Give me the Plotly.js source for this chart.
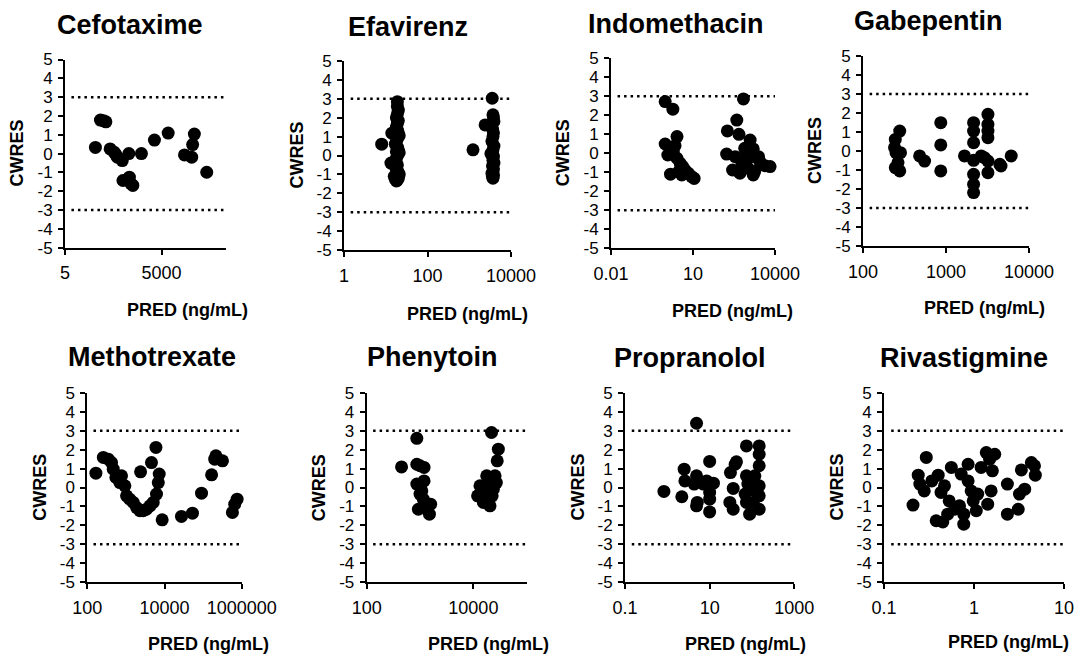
<!DOCTYPE html>
<html>
<head>
<meta charset="utf-8">
<script src="https://cdn.plot.ly/plotly-3.0.1.min.js"></script>
<style>
  html, body { margin: 0; padding: 0; background: #fff; }
  #chart { width: 1078px; height: 656px; }
</style>
</head>
<body>
<div id="chart"></div>
<script>
// ---- data ----
const drugNames = ["Cefotaxime", "Efavirenz", "Indomethacin", "Gabepentin",
                   "Methotrexate", "Phenytoin", "Propranolol", "Rivastigmine"];

const cefotaximeX = [44, 63, 79, 93, 126, 170, 190, 212, 300, 315, 480, 500, 560, 640, 1180, 3000, 8000, 25700, 43000, 46000, 52000, 126000];
const cefotaximeY = [0.33, 1.78, 1.74, 1.69, 0.25, 0.07, -0.05, -0.19, -0.37, -1.43, 0, -1.25, -1.6, -1.69, 0, 0.72, 1.09, -0.07, -0.19, 0.48, 1.04, -0.99];

const efavirenzX = [8, 14, 13.3, 19, 19, 20, 19, 18, 20, 19, 18, 19, 20, 21, 19, 18, 17, 19, 20, 21, 19, 18, 17, 16, 17, 18, 19, 20, 21, 19, 18, 17, 16, 18, 19, 20, 19, 18,
                    1230, 3550, 3800, 3700, 3900, 2400, 3600, 3800, 3700, 3500, 3900, 3700, 3600, 3800, 3300, 3700, 3900, 3600, 3800, 3700, 3500, 3800, 3700, 3600];
const efavirenzY = [0.6, 1.18, -0.4, 2.85, 2.6, 2.4, 2.2, 2.0, 1.85, 1.7, 1.5, 1.35, 1.2, 1.05, 0.9, 0.75, 0.6, 0.45, 0.3, 0.15, 0.0, -0.15, -0.3, -0.45, -0.6, -0.7, -0.8, -0.9, -1.0, -1.1, -1.2, -1.25, -1.1, -1.35, -1.3, -1.2, -0.5, 0.2,
                    0.3, 3.03, 2.0, 2.15, 1.8, 1.62, 1.4, 1.2, 1.0, 0.75, 0.5, 0.3, 0.12, -0.05, 0.1, -0.25, -0.4, -0.55, -0.7, -0.85, -0.95, -1.05, -1.2, -1.1];

const indomethacinX = [0.96, 1.83, 0.96, 2.6, 2.2, 1.2, 1.5, 1.9, 2.6, 3.4, 4.2, 5.1, 6.8, 9, 11, 3, 3.9, 181, 170, 400, 480, 700, 280, 520, 780, 1230, 1600, 620, 1050, 1800, 2800, 4300, 6600, 350, 780, 1400, 1600, 2500];
const indomethacinY = [2.72, 2.32, 0.49, 0.88, 0.4, -0.09, -1.1, 0.09, -0.26, -0.53, -0.7, -0.88, -1.05, -1.23, -1.32, -0.96, -1.14, 1.18, -0.04, 1.75, 1.0, 2.86, -0.88, -1.05, 0.26, 0.7, 0.23, -0.53, -0.79, -0.96, -0.44, -0.65, -0.7, -0.18, -0.26, -0.18, -1.14, -0.18];

const gabepentinX = [245, 277, 240, 250, 283, 245, 277, 264, 481, 552, 865, 865, 865, 1670, 2150, 2150, 2150, 2150, 2150, 2150, 2150, 2660, 3200, 3200, 3200, 3200, 3200, 3200, 2900, 4450, 4600, 6100];
const gabepentinY = [0.61, 1.05, 0.18, -0.09, -0.09, -0.88, -1.05, -0.61, -0.26, -0.53, 1.49, 0.32, -1.05, -0.26, 1.49, 1.05, 0.44, -0.49, -1.23, -1.75, -2.19, -0.26, 1.93, 1.4, 1.05, 0.7, -0.53, -1.14, -0.35, -0.7, -0.79, -0.26];

const methotrexateX = [167, 260, 350, 425, 470, 550, 770, 700, 940, 1040, 1260, 1550, 1900, 2300, 2800, 3400, 2400, 4600, 6000, 7300, 5100, 4200, 6200, 6900, 8700, 27500, 53000, 91000, 166000, 200000, 215000, 318000, 575000, 660000, 760000];
const methotrexateY = [0.76, 1.59, 1.5, 1.32, 0.97, 0.53, 0.62, 0.26, 0.09, -0.44, -0.62, -0.79, -1.06, -1.23, -1.23, -1.15, 0.83, 1.32, 2.12, 0.71, -0.79, -0.97, -0.35, 0.26, -1.71, -1.53, -1.36, -0.3, 0.67, 1.5, 1.68, 1.41, -1.32, -0.88, -0.62];

const phenytoinX = [450, 870, 870, 1000, 1190, 870, 1190, 1000, 1150, 930, 1330, 1500, 1580, 1250, 1080, 13300, 15400, 14500, 17800, 20500, 21900, 17800, 20500, 23700, 25500, 29400, 28000, 27000, 22500, 16500, 12000, 15400, 19000];
const phenytoinY = [1.09, 2.6, 1.23, 1.15, 1.06, 0.18, 0.35, -0.35, -0.62, -1.15, -1.15, -1.41, -0.88, -0.88, -0.18, 0.09, -0.26, -0.44, -0.79, -0.97, 2.91, 0.62, 0.09, -0.09, 0.62, 2.03, 1.41, 0.26, -0.44, 0.09, -0.44, -0.79, -0.35];

const propranololX = [0.83, 2.2, 2.5, 2.6, 4.9, 4.9, 4.3, 5.1, 4.9, 7.1, 10, 10, 10, 10, 12.3, 8.5, 31, 40, 43, 36, 30, 36, 74, 74, 74, 80, 69, 88, 107, 107, 148, 148, 148, 148, 148, 148, 128, 117];
const propranololY = [-0.21, -0.49, 0.97, 0.35, 3.4, 0.62, 0.18, -0.79, -0.97, 0.18, 1.38, -0.26, -0.62, -1.29, 0.23, 0.35, 0.79, 1.23, 1.36, -0.05, -0.79, -1.15, 2.2, 0.62, -0.79, 0.18, -0.35, -1.41, -0.79, 0.09, 2.2, 1.76, 1.15, 0.09, -0.44, -1.15, -0.26, 0.62];

const rivastigmineX = [0.21, 0.24, 0.25, 0.295, 0.28, 0.34, 0.40, 0.38, 0.45, 0.43, 0.47, 0.51, 0.53, 0.56, 0.61, 0.69, 0.72, 0.77, 0.77, 0.86, 0.86, 0.93, 0.98, 1.06, 1.1, 1.2, 1.37, 1.49, 1.6, 1.7, 1.55, 1.42, 2.35, 2.35, 3.1, 3.36, 3.2, 3.66, 4.34, 4.7, 4.8];
const rivastigmineY = [-0.93, 0.65, 0.18, 1.59, -0.18, 0.35, 0.65, -1.76, -1.82, -0.26, 0.09, -1.41, -0.71, 1.06, -1.15, -0.97, 0.71, -1.41, -1.94, 0.35, 1.23, -0.18, -0.71, -1.23, -0.35, 1.06, 1.85, 1.5, 0.88, 1.76, -0.18, -0.88, 0.18, -1.41, -1.15, 0.93, -0.35, -0.09, 1.32, 1.15, 0.65];

// x-axis ranges (data units) and tick labels
const xRanges = [[5, 500000], [1, 10000], [0.01, 10000], [100, 10000],
                 [100, 1000000], [100, 100000], [0.1, 1000], [0.1, 10]];
const xTickVals = [[5, 5000], [1, 100, 10000], [0.01, 10, 10000], [100, 1000, 10000],
                   [100, 10000, 1000000], [100, 10000], [0.1, 10, 1000], [0.1, 1, 10]];
const xTickText = [["5", "5000"], ["1", "100", "10000"], ["0.01", "10", "10000"], ["100", "1000", "10000"],
                   ["100", "10000", "1000000"], ["100", "10000"], ["0.1", "10", "1000"], ["0.1", "1", "10"]];
const yTickVals = [-5, -4, -3, -2, -1, 0, 1, 2, 3, 4, 5];
const yTickText = ["-5", "-4", "-3", "-2", "-1", "0", "1", "2", "3", "4", "5"];
const refLines = [3, -3];
const yTitle = "CWRES";
const xTitle = "PRED (ng/mL)";

const seriesX = [cefotaximeX, efavirenzX, indomethacinX, gabepentinX, methotrexateX, phenytoinX, propranololX, rivastigmineX];
const seriesY = [cefotaximeY, efavirenzY, indomethacinY, gabepentinY, methotrexateY, phenytoinY, propranololY, rivastigmineY];

// ---- layout geometry (pixels) ----
const W = 1078, H = 656;
const boxes = [ // [left, right, top, bottom]
  [65, 226, 59.5, 247.7],
  [344, 511, 61, 250],
  [611, 775, 58.3, 248.3],
  [863, 1029, 56, 246],
  [87.3, 241.7, 393, 582],
  [366.7, 526.7, 393, 582],
  [625, 794.3, 393, 582],
  [884, 1064, 393, 582]
];
const titlePos = [[130, 25], [408, 27], [676, 24], [928, 21], [152, 357], [432, 357], [690, 358], [964, 358]];
const xTitlePos = [[187, 310], [467, 314], [732, 311], [984, 308], [208, 644], [488, 644], [745, 644], [1008, 642]];

const FONT = "Liberation Sans, Arial, sans-serif";
const px = v => v / W;
const py = v => 1 - v / H;

const data = [];
const layout = {
  width: W, height: H,
  margin: {l: 0, r: 0, t: 0, b: 0},
  paper_bgcolor: "#ffffff",
  plot_bgcolor: "rgba(0,0,0,0)",
  showlegend: false,
  font: {family: FONT, color: "#000"},
  annotations: [],
  shapes: []
};

for (let i = 0; i < 8; i++) {
  const n = i + 1;
  const xa = n === 1 ? "x" : "x" + n;
  const ya = n === 1 ? "y" : "y" + n;
  const b = boxes[i];
  data.push({
    type: "scatter", mode: "markers",
    x: seriesX[i], y: seriesY[i],
    xaxis: xa, yaxis: ya,
    marker: {color: "#000", size: 13, line: {width: 0}},
    hoverinfo: "x+y", cliponaxis: false
  });
  layout["xaxis" + (n === 1 ? "" : n)] = {
    type: "log",
    domain: [px(b[0]), px(b[1])],
    range: [Math.log10(xRanges[i][0]), Math.log10(xRanges[i][1])],
    anchor: ya,
    tickmode: "array", tickvals: xTickVals[i], ticktext: xTickText[i],
    ticks: "outside", ticklen: 5, tickwidth: 2, tickcolor: "#000",
    showline: true, linewidth: 2, linecolor: "#000",
    showgrid: false, zeroline: false,
    tickfont: {family: FONT, size: 18, color: "#000"},
    ticklabelstandoff: 3,
    fixedrange: true
  };
  layout["yaxis" + (n === 1 ? "" : n)] = {
    domain: [py(b[3]), py(b[2])],
    range: [-5, 5],
    anchor: xa,
    tickmode: "array", tickvals: yTickVals, ticktext: yTickText,
    ticks: "outside", ticklen: 5, tickwidth: 2, tickcolor: "#000",
    showline: true, linewidth: 2, linecolor: "#000",
    showgrid: false, zeroline: false,
    tickfont: {family: FONT, size: 17, color: "#000"},
    ticklabelstandoff: 2,
    fixedrange: true
  };
  refLines.forEach(v => {
    layout.shapes.push({
      type: "line", xref: xa + " domain", yref: ya,
      x0: 0.04, x1: 1, y0: v, y1: v,
      line: {color: "#000", width: 2.5, dash: "2.5px,4px"}
    });
  });
  layout.annotations.push({
    text: "<b>" + drugNames[i] + "</b>",
    xref: "paper", yref: "paper",
    x: px(titlePos[i][0]), y: py(titlePos[i][1]),
    xanchor: "center", yanchor: "middle", showarrow: false,
    font: {family: FONT, size: 27, color: "#000"}
  });
  layout.annotations.push({
    text: "<b>" + yTitle + "</b>",
    xref: "paper", yref: "paper",
    x: px(b[0] - 48), y: py((b[2] + b[3]) / 2),
    xanchor: "center", yanchor: "middle", showarrow: false, textangle: -90,
    font: {family: FONT, size: 18, color: "#000"}
  });
  layout.annotations.push({
    text: "<b>" + xTitle + "</b>",
    xref: "paper", yref: "paper",
    x: px(xTitlePos[i][0]), y: py(xTitlePos[i][1]),
    xanchor: "center", yanchor: "middle", showarrow: false,
    font: {family: FONT, size: 18, color: "#000"}
  });
}

Plotly.newPlot("chart", data, layout, {staticPlot: true, displayModeBar: false});
</script>
</body>
</html>
